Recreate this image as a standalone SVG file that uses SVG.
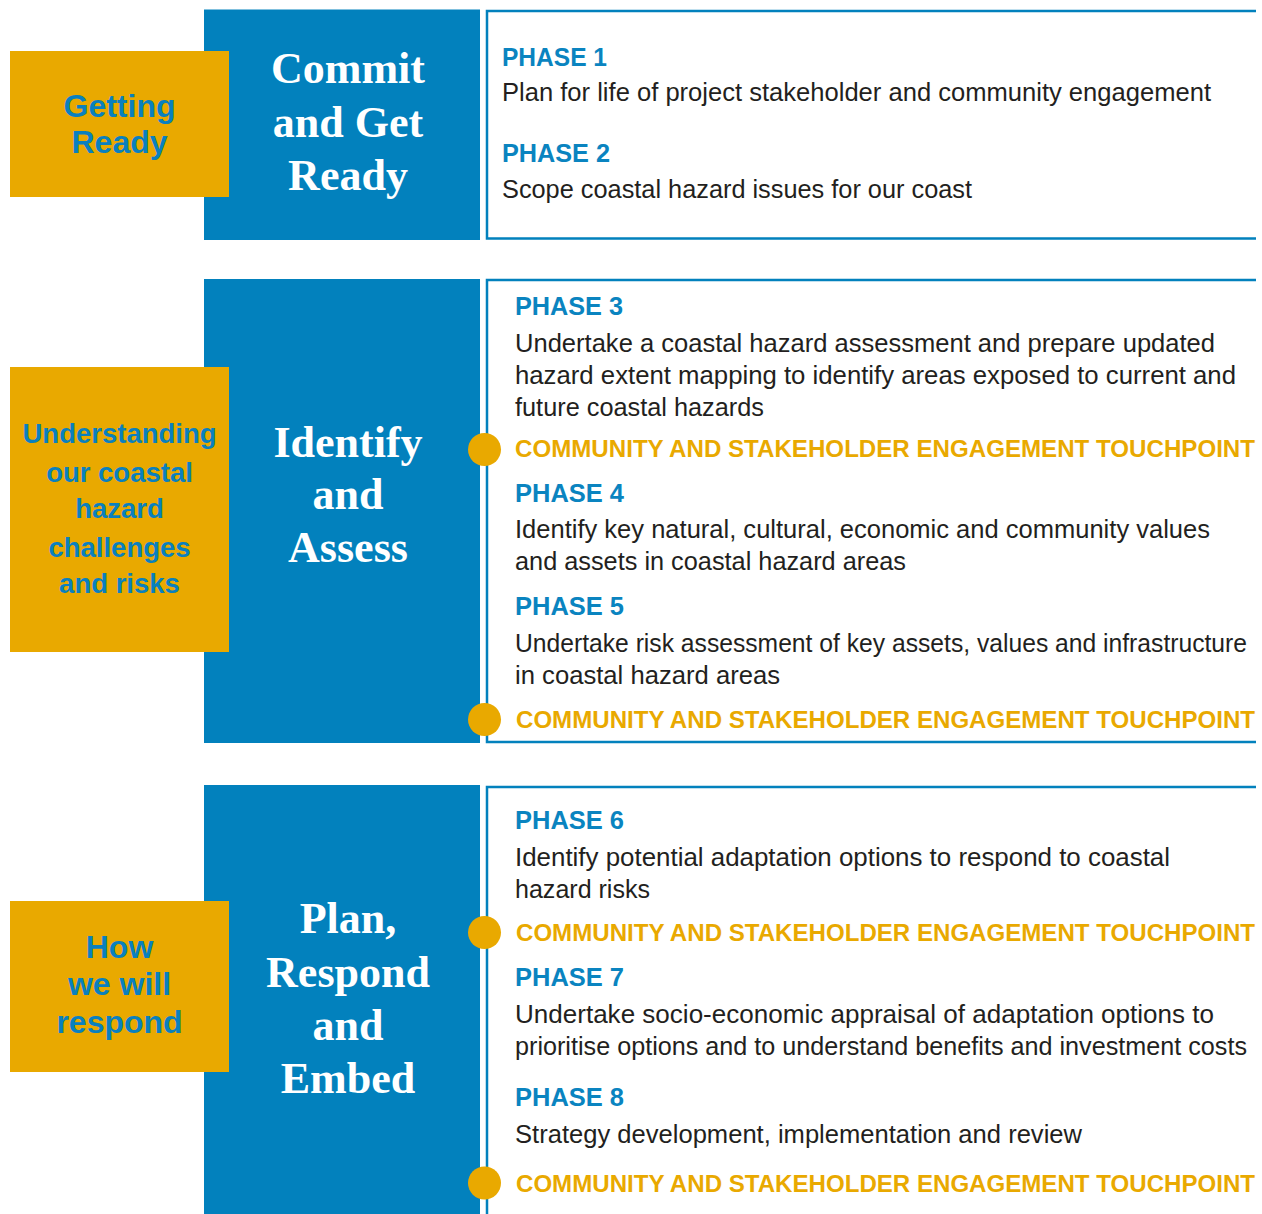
<svg xmlns="http://www.w3.org/2000/svg" width="1262" height="1214" viewBox="0 0 1262 1214">
<style>
.blue{fill:#0281BD}
.gold{fill:#E9A900}
.panel{fill:none;stroke:#0281BD;stroke-width:2.5}
.stage{font-family:"Liberation Serif",serif;font-weight:bold;font-size:44px;fill:#FFFFFF;text-anchor:middle}
.cap{font-family:"Liberation Sans",Arial,sans-serif;font-weight:bold;fill:#0A80BE;text-anchor:middle}
.ph{font-family:"Liberation Sans",Arial,sans-serif;font-weight:bold;font-size:25px;fill:#0A84C0}
.body{font-family:"Liberation Sans",Arial,sans-serif;font-size:25px;fill:#231F20}
.tp{font-family:"Liberation Sans",Arial,sans-serif;font-weight:bold;font-size:24px;fill:#E9A900}
.dot{fill:#E9A900}
</style>
<rect width="1262" height="1214" fill="#FFFFFF"/>

<g id="connectors">
  <path class="panel" d="M1256 11 H487 V238.5 H1256"/>
  <path class="panel" d="M1256 280 H487 V742 H1256"/>
  <path class="panel" d="M1256 787 H487 V1214"/>
</g>

<g id="stage1">
  <rect class="blue" x="204" y="9.5" width="276" height="230.5"/>
  <text class="stage" font-size="43"><tspan x="348" y="83">Commit</tspan><tspan x="348" y="137">and Get</tspan><tspan x="348" y="190">Ready</tspan></text>
</g>
<g id="label1">
  <rect class="gold" x="10" y="51" width="219" height="146"/>
  <text class="cap" font-size="32"><tspan x="119.5" y="117">Getting</tspan><tspan x="119.5" y="153">Ready</tspan></text>
</g>

<g id="stage2">
  <rect class="blue" x="204" y="279" width="276" height="464"/>
  <text class="stage"><tspan x="348" y="457">Identify</tspan><tspan x="348" y="509">and</tspan><tspan x="348" y="562">Assess</tspan></text>
</g>
<g id="label2">
  <rect class="gold" x="10" y="367" width="219" height="285"/>
  <text class="cap" font-size="27.5"><tspan x="119.5" y="443">Understanding</tspan><tspan x="119.5" y="482">our coastal</tspan><tspan x="119.5" y="518">hazard</tspan><tspan x="119.5" y="557">challenges</tspan><tspan x="119.5" y="593">and risks</tspan></text>
</g>

<g id="stage3">
  <rect class="blue" x="204" y="785" width="276" height="429"/>
  <text class="stage"><tspan x="348" y="933">Plan,</tspan><tspan x="348" y="987">Respond</tspan><tspan x="348" y="1040">and</tspan><tspan x="348" y="1093">Embed</tspan></text>
</g>
<g id="label3">
  <rect class="gold" x="10" y="901" width="219" height="171"/>
  <text class="cap" font-size="32"><tspan x="119.5" y="958">How</tspan><tspan x="119.5" y="995">we will</tspan><tspan x="119.5" y="1033">respond</tspan></text>
</g>

<g id="panel1">
  <text class="ph" x="502" y="66" textLength="105" lengthAdjust="spacingAndGlyphs">PHASE 1</text>
  <text class="body" x="502" y="101" textLength="709" lengthAdjust="spacingAndGlyphs">Plan for life of project stakeholder and community engagement</text>
  <text class="ph" x="502" y="162" textLength="108" lengthAdjust="spacingAndGlyphs">PHASE 2</text>
  <text class="body" x="502" y="198" textLength="470" lengthAdjust="spacingAndGlyphs">Scope coastal hazard issues for our coast</text>
</g>

<g id="panel2">
  <text class="ph" x="515" y="315" textLength="108" lengthAdjust="spacingAndGlyphs">PHASE 3</text>
  <text class="body" x="515" y="352" textLength="700" lengthAdjust="spacingAndGlyphs">Undertake a coastal hazard assessment and prepare updated</text>
  <text class="body" x="515" y="384" textLength="721" lengthAdjust="spacingAndGlyphs">hazard extent mapping to identify areas exposed to current and</text>
  <text class="body" x="515" y="416" textLength="249" lengthAdjust="spacingAndGlyphs">future coastal hazards</text>
  <circle class="dot" cx="484.5" cy="449.5" r="16.5"/>
  <text class="tp" x="515" y="457" textLength="740" lengthAdjust="spacingAndGlyphs">COMMUNITY AND STAKEHOLDER ENGAGEMENT TOUCHPOINT</text>
  <text class="ph" x="515" y="502" textLength="109" lengthAdjust="spacingAndGlyphs">PHASE 4</text>
  <text class="body" x="515" y="538" textLength="695" lengthAdjust="spacingAndGlyphs">Identify key natural, cultural, economic and community values</text>
  <text class="body" x="515" y="570" textLength="391" lengthAdjust="spacingAndGlyphs">and assets in coastal hazard areas</text>
  <text class="ph" x="515" y="615" textLength="109" lengthAdjust="spacingAndGlyphs">PHASE 5</text>
  <text class="body" x="515" y="652" textLength="732" lengthAdjust="spacingAndGlyphs">Undertake risk assessment of key assets, values and infrastructure</text>
  <text class="body" x="515" y="684" textLength="265" lengthAdjust="spacingAndGlyphs">in coastal hazard areas</text>
  <circle class="dot" cx="484.5" cy="719.5" r="16.5"/>
  <text class="tp" x="516" y="728" textLength="739" lengthAdjust="spacingAndGlyphs">COMMUNITY AND STAKEHOLDER ENGAGEMENT TOUCHPOINT</text>
</g>

<g id="panel3">
  <text class="ph" x="515" y="829" textLength="109" lengthAdjust="spacingAndGlyphs">PHASE 6</text>
  <text class="body" x="515" y="866" textLength="655" lengthAdjust="spacingAndGlyphs">Identify potential adaptation options to respond to coastal</text>
  <text class="body" x="515" y="898" textLength="135" lengthAdjust="spacingAndGlyphs">hazard risks</text>
  <circle class="dot" cx="484.5" cy="932.5" r="16.5"/>
  <text class="tp" x="516" y="941" textLength="739" lengthAdjust="spacingAndGlyphs">COMMUNITY AND STAKEHOLDER ENGAGEMENT TOUCHPOINT</text>
  <text class="ph" x="515" y="986" textLength="109" lengthAdjust="spacingAndGlyphs">PHASE 7</text>
  <text class="body" x="515" y="1023" textLength="699" lengthAdjust="spacingAndGlyphs">Undertake socio-economic appraisal of adaptation options to</text>
  <text class="body" x="515" y="1055" textLength="732" lengthAdjust="spacingAndGlyphs">prioritise options and to understand benefits and investment costs</text>
  <text class="ph" x="515" y="1106" textLength="109" lengthAdjust="spacingAndGlyphs">PHASE 8</text>
  <text class="body" x="515" y="1143" textLength="567" lengthAdjust="spacingAndGlyphs">Strategy development, implementation and review</text>
  <circle class="dot" cx="484.5" cy="1183" r="16.5"/>
  <text class="tp" x="516" y="1192" textLength="739" lengthAdjust="spacingAndGlyphs">COMMUNITY AND STAKEHOLDER ENGAGEMENT TOUCHPOINT</text>
</g>
</svg>
